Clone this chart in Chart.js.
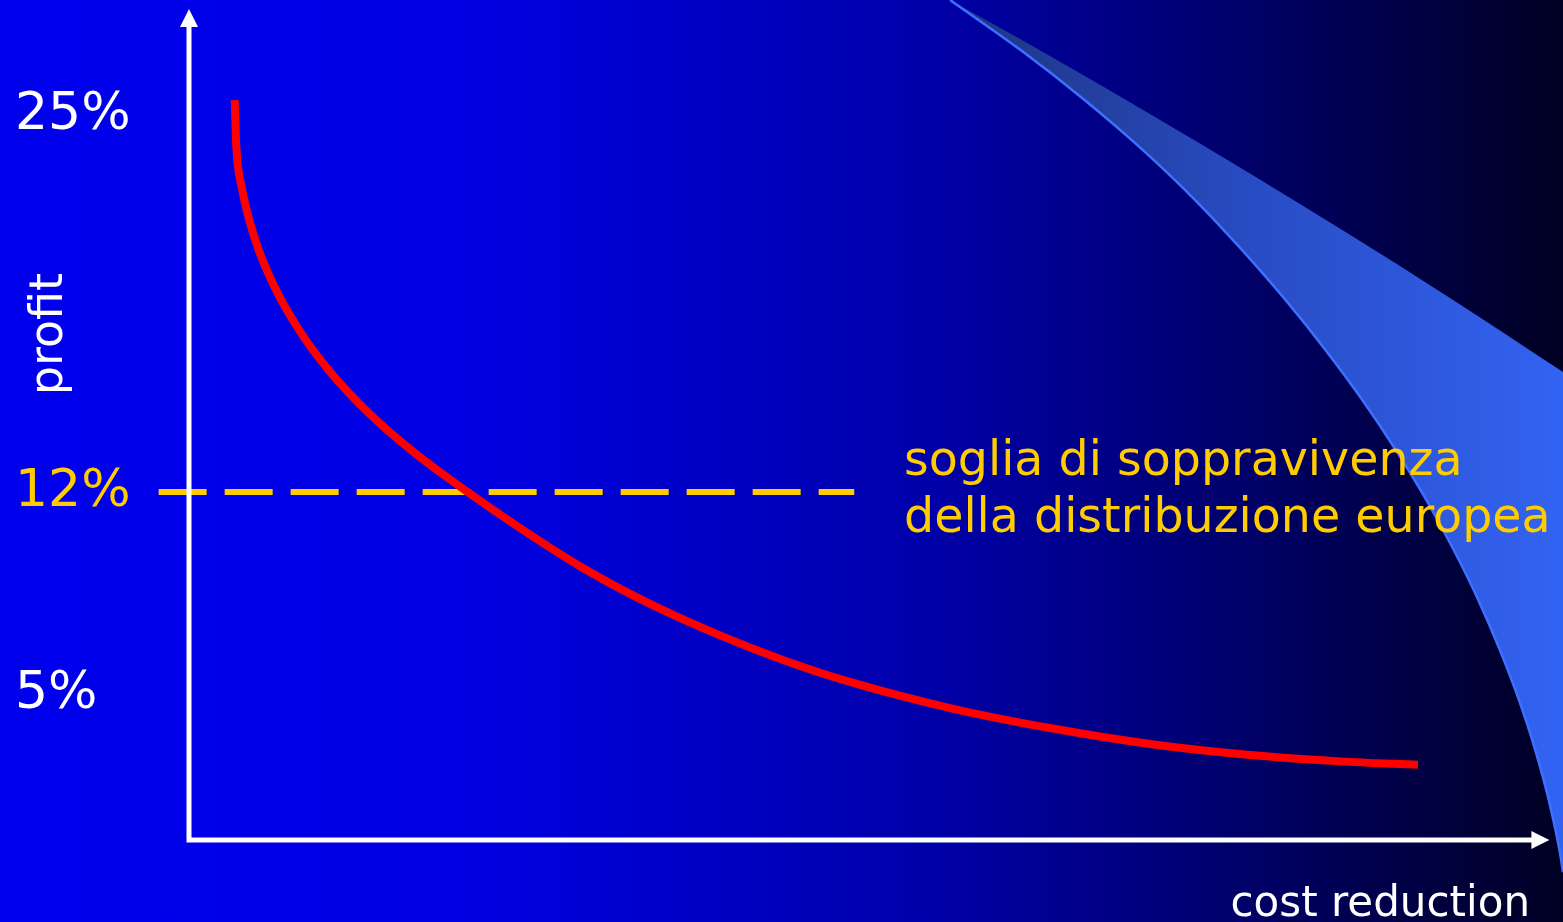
<!DOCTYPE html>
<html>
<head>
<meta charset="utf-8">
<title>profit / cost reduction</title>
<script src="https://cdn.jsdelivr.net/npm/chart.js@4/dist/chart.umd.min.js"></script>
<style>
  html, body { margin: 0; padding: 0; background: #0000ee; overflow: hidden; }
  canvas { display: block; }
</style>
</head>
<body>
<canvas id="chart" width="1563" height="922"></canvas>
<script>
// Profit curve: profit (%) as cost reduction grows
const COST_REDUCTION = [3.36, 3.48, 3.87, 4.87, 6.28, 8.24, 10.45, 13.22, 16.61, 20.27, 24.33, 28.96, 33.89, 38.81, 43.66, 48.59, 55.94, 63.29, 70.64, 77.99, 84.61, 90.34];
const PROFIT = [25.52, 23.91, 22.53, 20.69, 19.08, 17.48, 16.10, 14.72, 13.34, 12.07, 10.76, 9.38, 8.14, 7.10, 6.21, 5.45, 4.55, 3.86, 3.31, 2.93, 2.71, 2.59];

// Survival threshold of European retail
const THRESHOLD = 12;
const THRESHOLD_X = [-2.23, 48.90];

// Decorative ribbon on the right (lower and upper edge)
const BAND_LOWER_X = [55.94, 61.11, 65.83, 70.10, 73.94, 77.40, 80.59, 83.54, 86.24, 88.71, 90.95, 92.97, 94.77, 96.36, 97.76, 98.96, 99.95, 100.74, 101.00];
const BAND_LOWER_Y = [28.97, 27.25, 25.52, 23.80, 22.08, 20.35, 18.63, 16.90, 15.18, 13.45, 11.73, 10.00, 8.28, 6.55, 4.83, 3.10, 1.38, -0.35, -1.11];
const BAND_UPPER_X = [55.94, 63.29, 70.64, 77.99, 85.34, 92.69, 101.00];
const BAND_UPPER_Y = [28.97, 27.04, 25.04, 22.99, 20.87, 18.69, 16.14];

// Tick labels on the profit axis
const Y_TICKS = [5, 12, 25];

// Texts
const Y_TITLE = 'profit';
const X_TITLE = 'cost reduction';
const NOTE_LINES = ['soglia di soppravivenza', 'della distribuzione europea'];

// Axis extents (arrow tips)
const AXIS_X_END = 100;
const AXIS_Y_END = 28.66;

const FONT = '"DejaVu Sans", Verdana, sans-serif';
const YELLOW = '#ffcc00';
const WHITE = '#ffffff';

const pts = (xs, ys) => xs.map((x, i) => ({ x: x, y: ys[i] }));

const backgroundPlugin = {
  id: 'slideBackground',
  beforeDraw(chart) {
    const { ctx, width, height } = chart;
    const g = ctx.createLinearGradient(0, 0, width, 0);
    g.addColorStop(0.00, 'rgb(0,0,238)');
    g.addColorStop(0.30, 'rgb(0,0,226)');
    g.addColorStop(0.60, 'rgb(0,0,168)');
    g.addColorStop(0.80, 'rgb(0,0,104)');
    g.addColorStop(1.00, 'rgb(0,0,36)');
    ctx.save();
    ctx.fillStyle = g;
    ctx.fillRect(0, 0, width, height);
    ctx.restore();
  }
};

const axesPlugin = {
  id: 'arrowAxes',
  afterDatasetsDraw(chart) {
    const { ctx, scales } = chart;
    const xs = scales.x, ys = scales.y;
    const x0 = xs.getPixelForValue(0);
    const y0 = ys.getPixelForValue(0);
    const xEnd = xs.getPixelForValue(AXIS_X_END);
    const yEnd = ys.getPixelForValue(AXIS_Y_END);
    const head = 18, half = 9;
    ctx.save();
    ctx.strokeStyle = WHITE;
    ctx.fillStyle = WHITE;
    ctx.lineWidth = 5;
    ctx.lineCap = 'square';
    ctx.beginPath();
    ctx.moveTo(x0, yEnd + head - 1);
    ctx.lineTo(x0, y0);
    ctx.lineTo(xEnd - head + 1, y0);
    ctx.stroke();
    // arrow heads
    ctx.beginPath();
    ctx.moveTo(x0, yEnd);
    ctx.lineTo(x0 - half, yEnd + head);
    ctx.lineTo(x0 + half, yEnd + head);
    ctx.closePath();
    ctx.fill();
    ctx.beginPath();
    ctx.moveTo(xEnd, y0);
    ctx.lineTo(xEnd - head, y0 - half);
    ctx.lineTo(xEnd - head, y0 + half);
    ctx.closePath();
    ctx.fill();
    ctx.restore();
  }
};

const textPlugin = {
  id: 'slideTexts',
  afterDatasetsDraw(chart) {
    const { ctx } = chart;
    ctx.save();
    // rotated y axis title
    ctx.fillStyle = WHITE;
    ctx.font = '46px ' + FONT;
    ctx.textAlign = 'center';
    ctx.textBaseline = 'alphabetic';
    ctx.translate(62, 334);
    ctx.rotate(-Math.PI / 2);
    ctx.fillText(Y_TITLE, 0, 0);
    ctx.setTransform(1, 0, 0, 1, 0, 0);
    // x axis title
    ctx.font = '42px ' + FONT;
    ctx.textAlign = 'right';
    ctx.fillText(X_TITLE, 1530, 916);
    // threshold note
    ctx.fillStyle = YELLOW;
    ctx.font = '47.5px ' + FONT;
    ctx.textAlign = 'left';
    ctx.fillText(NOTE_LINES[0], 904, 475);
    ctx.fillText(NOTE_LINES[1], 904, 532);
    ctx.restore();
  }
};

new Chart(document.getElementById('chart'), {
  type: 'line',
  data: {
    datasets: [
      {
        label: 'profit',
        data: pts(COST_REDUCTION, PROFIT),
        borderColor: '#ff0000',
        borderWidth: 8,
        borderCapStyle: 'butt',
        pointRadius: 0,
        cubicInterpolationMode: 'monotone',
        fill: false,
        order: 0
      },
      {
        label: 'soglia',
        data: pts(THRESHOLD_X, [THRESHOLD, THRESHOLD]),
        borderColor: YELLOW,
        borderWidth: 6,
        borderDash: [48, 18],
        borderCapStyle: 'butt',
        pointRadius: 0,
        fill: false,
        clip: false,
        order: 1
      },
      {
        label: 'band lower',
        data: pts(BAND_LOWER_X, BAND_LOWER_Y),
        borderColor: 'rgb(62,112,255)',
        borderWidth: 2.5,
        pointRadius: 0,
        cubicInterpolationMode: 'monotone',
        fill: 3,
        backgroundColor(context) {
          const chart = context.chart;
          const { ctx, chartArea, scales } = chart;
          if (!chartArea || !scales.x) return 'rgba(45,85,210,1)';
          const g = ctx.createLinearGradient(scales.x.getPixelForValue(BAND_LOWER_X[0]), 0, chartArea.right, 0);
          g.addColorStop(0, 'rgb(30,52,128)');
          g.addColorStop(0.5, 'rgb(40,76,196)');
          g.addColorStop(1, 'rgb(51,99,242)');
          return g;
        },
        clip: false,
        order: 2
      },
      {
        label: 'band upper',
        data: pts(BAND_UPPER_X, BAND_UPPER_Y),
        borderColor: 'rgba(0,0,0,0)',
        borderWidth: 0,
        pointRadius: 0,
        cubicInterpolationMode: 'monotone',
        fill: false,
        clip: false,
        order: 3
      }
    ]
  },
  options: {
    responsive: false,
    animation: false,
    devicePixelRatio: 1,
    layout: { padding: { left: 15, right: 0, top: 0, bottom: 0 } },
    plugins: {
      legend: { display: false },
      tooltip: { enabled: false }
    },
    scales: {
      x: {
        type: 'linear',
        min: 0,
        max: 101,
        display: false
      },
      y: {
        type: 'linear',
        min: -2.83,
        max: 28.97,
        grid: { display: false, drawTicks: false },
        border: { display: false },
        afterBuildTicks(scale) {
          scale.ticks = Y_TICKS.map(v => ({ value: v }));
        },
        afterFit(scale) {
          scale.width = 174;
          scale.paddingTop = 0;
          scale.paddingBottom = 0;
        },
        ticks: {
          padding: 0,
          crossAlign: 'far',
          font: { family: FONT, size: 52 },
          color: (ctx) => (ctx.tick && ctx.tick.value === THRESHOLD ? YELLOW : WHITE),
          callback: (v) => v + '%'
        }
      }
    }
  },
  plugins: [backgroundPlugin, axesPlugin, textPlugin]
});
</script>
</body>
</html>
